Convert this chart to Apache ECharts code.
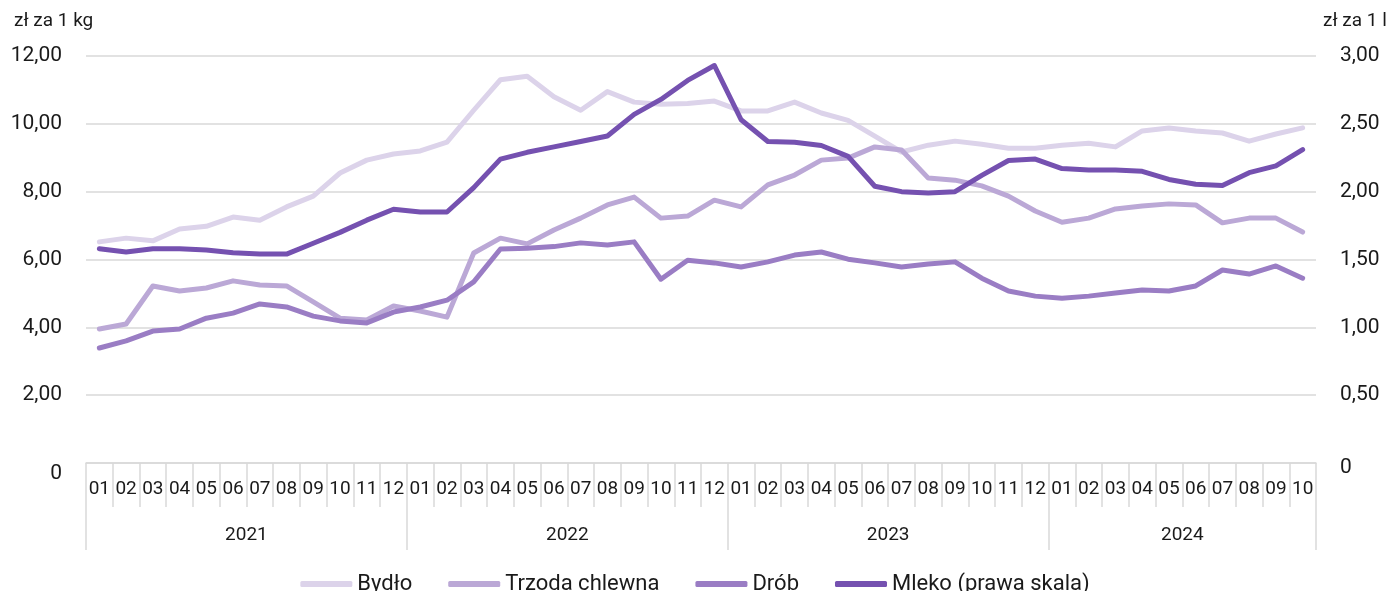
<!DOCTYPE html>
<html>
<head>
<meta charset="utf-8">
<script src="https://cdn.jsdelivr.net/npm/echarts@6/dist/echarts.min.js"></script>
<style>
  html, body { margin: 0; padding: 0; background: #fff; }
  #chart { width: 1390px; height: 591px; }
</style>
</head>
<body>
<div id="chart"></div>
<script>
const months = [
  "01","02","03","04","05","06","07","08","09","10","11","12",
  "01","02","03","04","05","06","07","08","09","10","11","12",
  "01","02","03","04","05","06","07","08","09","10","11","12",
  "01","02","03","04","05","06","07","08","09","10"
]
const years = ["2021", "2022", "2023", "2024"]
const yearStarts = [0, 12, 24, 36, 46]
const yearCenters = [6, 18, 30, 41]

// zł za 1 kg (lewa skala)
const bydlo = [
  6.52, 6.63, 6.55, 6.90, 6.98, 7.25, 7.16, 7.55, 7.87, 8.55, 8.93, 9.11,
  9.20, 9.46, 10.40, 11.30, 11.40, 10.80, 10.40, 10.95, 10.64, 10.58, 10.60, 10.67,
  10.38, 10.38, 10.64, 10.32, 10.10, 9.64, 9.17, 9.37, 9.49, 9.40, 9.28, 9.28,
  9.37, 9.43, 9.32, 9.79, 9.88, 9.79, 9.73, 9.49, 9.70, 9.88
]
const trzoda = [
  3.95, 4.10, 5.22, 5.07, 5.16, 5.37, 5.25, 5.22, 4.75, 4.27, 4.22, 4.63,
  4.48, 4.30, 6.19, 6.63, 6.46, 6.87, 7.22, 7.61, 7.84, 7.22, 7.28, 7.75,
  7.55, 8.20, 8.49, 8.93, 8.99, 9.32, 9.23, 8.40, 8.34, 8.17, 7.87, 7.43,
  7.10, 7.22, 7.49, 7.58, 7.64, 7.61, 7.08, 7.22, 7.22, 6.81
]
const drob = [
  3.39, 3.60, 3.89, 3.95, 4.27, 4.42, 4.69, 4.60, 4.33, 4.19, 4.13, 4.45,
  4.60, 4.80, 5.34, 6.31, 6.33, 6.38, 6.49, 6.43, 6.52, 5.42, 5.98, 5.90,
  5.78, 5.93, 6.13, 6.22, 6.01, 5.90, 5.78, 5.87, 5.93, 5.45, 5.07, 4.92,
  4.86, 4.92, 5.01, 5.10, 5.07, 5.22, 5.69, 5.57, 5.81, 5.45
]
// zł za 1 l (prawa skala)
const mleko = [
  1.58, 1.555, 1.58, 1.58, 1.57, 1.55, 1.54, 1.54, 1.62, 1.70, 1.79, 1.87,
  1.85, 1.85, 2.03, 2.24, 2.29, 2.33, 2.37, 2.41, 2.57, 2.68, 2.82, 2.93,
  2.53, 2.37, 2.365, 2.34, 2.26, 2.04, 2.00, 1.99, 2.00, 2.12, 2.23, 2.24,
  2.17, 2.16, 2.16, 2.15, 2.09, 2.055, 2.045, 2.14, 2.19, 2.31
]

const seriesNames = ["Bydło", "Trzoda chlewna", "Drób", "Mleko (prawa skala)"]
const colors = ["#dcd3ea", "#bba8d6", "#9a7dc4", "#7551b0"]

const FONT = "Roboto, 'Noto Sans', sans-serif"
const GRID_GRAY = "#d9d9d9"
const TEXT = "#1a1a1a"

function plFmt(v) {
  if (v === 0) return "{z|0}"
  return v.toFixed(2).replace(".", ",")
}

const chart = echarts.init(document.getElementById("chart"))

function lineSeries(name, data, color, yAxisIndex) {
  return {
    name: name,
    type: "line",
    data: data,
    xAxisIndex: 0,
    yAxisIndex: yAxisIndex,
    showSymbol: false,
    symbol: "none",
    lineStyle: { width: 5, color: color, cap: "round", join: "round" },
    itemStyle: { color: color },
    emphasis: { disabled: true },
  }
}

chart.setOption({
  animation: false,
  textStyle: { fontFamily: FONT },
  title: [
    { text: "zł za 1 kg", left: 9, top: 7, textStyle: { fontSize: 19, fontWeight: "normal", color: TEXT, fontFamily: FONT } },
    { text: "zł za 1 l", left: 1318, top: 7, textStyle: { fontSize: 19, fontWeight: "normal", color: TEXT, fontFamily: FONT } },
  ],
  grid: { left: 86, right: 74, top: 56, bottom: 128, containLabel: false },
  legend: {
    top: 568,
    left: "center",
    icon: "roundRect",
    itemWidth: 52,
    itemHeight: 6,
    itemGap: 36,
    data: seriesNames,
    textStyle: { fontSize: 22, color: TEXT, fontFamily: FONT, padding: [0, 0, 0, 0] },
  },
  xAxis: [
    {
      type: "category",
      data: months,
      boundaryGap: true,
      position: "bottom",
      axisLine: { show: true, lineStyle: { color: GRID_GRAY, width: 1.5 } },
      axisTick: { show: true, interval: 0, length: 44, lineStyle: { color: GRID_GRAY, width: 1.5 } },
      axisLabel: { interval: 0, margin: 17, fontSize: 19, color: TEXT, fontFamily: FONT, hideOverlap: false },
      splitLine: { show: false },
    },
    {
      type: "value",
      min: 0,
      max: months.length,
      position: "bottom",
      axisLine: { show: false },
      axisTick: { show: true, customValues: yearStarts, length: 87, lineStyle: { color: GRID_GRAY, width: 1.5 } },
      axisLabel: {
        customValues: yearCenters,
        margin: 63,
        fontSize: 19,
        color: TEXT,
        fontFamily: FONT,
        formatter: function (v) {
          return years[yearCenters.indexOf(v)] || ""
        },
      },
      splitLine: { show: false },
    },
  ],
  yAxis: [
    {
      type: "value",
      min: 0,
      max: 12,
      interval: 2,
      position: "left",
      axisLine: { show: false },
      axisTick: { show: false },
      splitLine: { show: true, lineStyle: { color: GRID_GRAY, width: 1.5 } },
      axisLabel: {
        margin: 24,
        fontSize: 21,
        color: TEXT,
        fontFamily: FONT,
        formatter: plFmt,
        rich: { z: { fontSize: 21, color: TEXT, fontFamily: FONT, padding: [22, 0, 0, 0] } },
      },
    },
    {
      type: "value",
      min: 0,
      max: 3,
      interval: 0.5,
      position: "right",
      axisLine: { show: false },
      axisTick: { show: false },
      splitLine: { show: false },
      axisLabel: {
        margin: 24,
        fontSize: 21,
        color: TEXT,
        fontFamily: FONT,
        formatter: plFmt,
        rich: { z: { fontSize: 21, color: TEXT, fontFamily: FONT, padding: [10, 0, 0, 0] } },
      },
    },
  ],
  series: [
    lineSeries(seriesNames[0], bydlo, colors[0], 0),
    lineSeries(seriesNames[1], trzoda, colors[1], 0),
    lineSeries(seriesNames[2], drob, colors[2], 0),
    lineSeries(seriesNames[3], mleko, colors[3], 1),
  ],
})

window.addEventListener("resize", () => chart.resize())
</script>
</body>
</html>
